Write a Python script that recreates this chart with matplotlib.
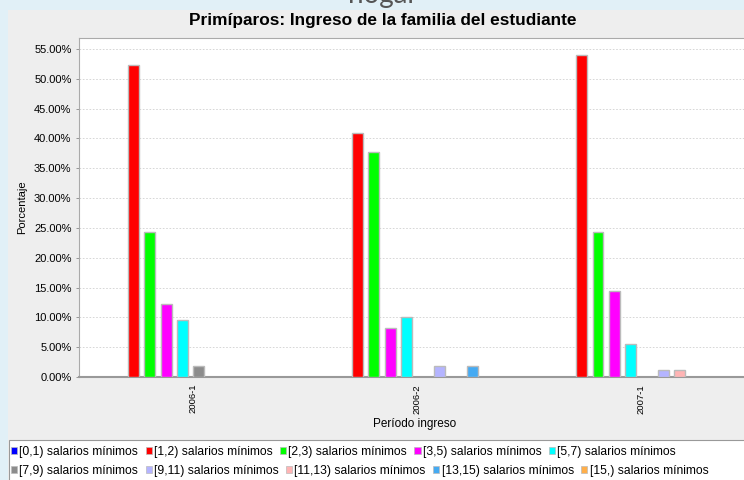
import matplotlib.pyplot as plt
import matplotlib.transforms as mtransforms
from matplotlib.patches import Rectangle
import numpy as np

plt.rcParams['font.family'] = ['Liberation Sans', 'DejaVu Sans']

# Data
periodos = ['2006-1', '2006-2', '2007-1']
rangos = ['[0,1) salarios mínimos', '[1,2) salarios mínimos', '[2,3) salarios mínimos',
          '[3,5) salarios mínimos', '[5,7) salarios mínimos', '[7,9) salarios mínimos',
          '[9,11) salarios mínimos', '[11,13) salarios mínimos', '[13,15) salarios mínimos',
          '[15,) salarios mínimos']
r_0_1 = [0.0, 0.0, 0.0]
r_1_2 = [52.3, 41.0, 54.0]
r_2_3 = [24.4, 37.8, 24.4]
r_3_5 = [12.2, 8.3, 14.5]
r_5_7 = [9.5, 10.0, 5.6]
r_7_9 = [1.9, 0.0, 0.0]
r_9_11 = [0.0, 1.9, 1.1]
r_11_13 = [0.0, 0.0, 1.1]
r_13_15 = [0.0, 1.9, 0.0]
r_15 = [0.0, 0.0, 0.0]
series = [r_0_1, r_1_2, r_2_3, r_3_5, r_5_7, r_7_9, r_9_11, r_11_13, r_13_15, r_15]
colores = ['#0000FF', '#FF0000', '#00FF00', '#FF00FF', '#00FFFF', '#8C8C8C',
           '#B4B4FF', '#FFB4B4', '#45AAF2', '#FFAF4A']

fig = plt.figure(figsize=(7.44, 4.8), dpi=100)
fig.patch.set_facecolor('#E1F0F7')

# chart panel
fig.patches.append(Rectangle((8 / 744, 0), 1, 1 - 10 / 480, transform=fig.transFigure,
                             facecolor='#EEEEEE', edgecolor='none', zorder=-10))
# cut-off page heading behind the chart
fig.text(0.515, 1 - 3 / 480, 'hogar', ha='center', va='baseline', fontsize=20,
         color='#555555', family=['Lato', 'DejaVu Sans'], zorder=-5)

ax = fig.add_axes([78.5 / 744, 1 - 377 / 480, (751 - 78.5) / 744, (377 - 38.3) / 480])
ax.set_facecolor('white')

x = np.arange(len(periodos))
paso = 0.073
ancho = 0.049
for i, (vals, col) in enumerate(zip(series, colores)):
    vals = np.array(vals)
    m = vals > 0
    ax.bar(x[m] + (i - 4.5) * paso, vals[m], width=ancho, color=col,
           edgecolor='#BBBBBB', linewidth=1, zorder=3)

ax.set_xlim(-0.5, 2.5)
ax.set_ylim(0, 56.8)
ax.set_yticks(np.arange(0, 56, 5))
ax.set_yticklabels([f'{v:.2f}%' for v in np.arange(0, 56, 5)], fontsize=8)
ax.set_xticks(x)
ax.set_xticklabels(periodos, rotation=90, fontsize=6.8)
ax.tick_params(axis='x', length=0, pad=5)
ax.tick_params(axis='y', length=2, width=0.6, color='#888888', pad=3)
offset = mtransforms.ScaledTranslation(2 / 100, 0, fig.dpi_scale_trans)
for lbl in ax.get_xticklabels():
    lbl.set_transform(lbl.get_transform() + offset)

ax.yaxis.grid(True, color='#D0D0D0', linestyle=(0, (2, 2)), linewidth=0.6)
ax.set_axisbelow(True)
for s in ['left', 'top']:
    ax.spines[s].set_color('#AAAAAA')
    ax.spines[s].set_linewidth(0.8)
ax.spines['bottom'].set_color('#999999')
ax.spines['bottom'].set_linewidth(1.5)
ax.spines['right'].set_visible(False)

ax.set_ylabel('Porcentaje', fontsize=8)
ax.yaxis.set_label_coords((27 - 78.5) / 672.5, 0.5)
ax.set_xlabel('Período ingreso', fontsize=8.5, labelpad=3)
fig.text(383 / 744, 1 - 20 / 480, 'Primíparos: Ingreso de la familia del estudiante',
         ha='center', va='center', fontsize=12.4, fontweight='bold')

# legend box
fig.patches.append(Rectangle((8.5 / 744, -0.1), 1, (480 - 440) / 480 + 0.1,
                             transform=fig.transFigure, facecolor='white',
                             edgecolor='#999999', linewidth=0.8, zorder=1))
handles = [Rectangle((0, 0), 1, 1, facecolor=c, edgecolor='#BBBBBB', linewidth=0.5)
           for c in colores]
# two flowing rows, like the original legend
for fila, y_px in [(range(0, 5), 452), (range(5, 10), 471)]:
    leg = fig.legend([handles[k] for k in fila], [rangos[k] for k in fila], ncol=5,
                     loc='center left', bbox_to_anchor=(11 / 744, 1 - y_px / 480),
                     frameon=False, fontsize=8.7, handlelength=0.5, handleheight=0.5,
                     handletextpad=0.2, columnspacing=0.6, borderaxespad=0,
                     borderpad=0)
    leg.set_zorder(2)

fig.savefig('out.png', dpi=100)
